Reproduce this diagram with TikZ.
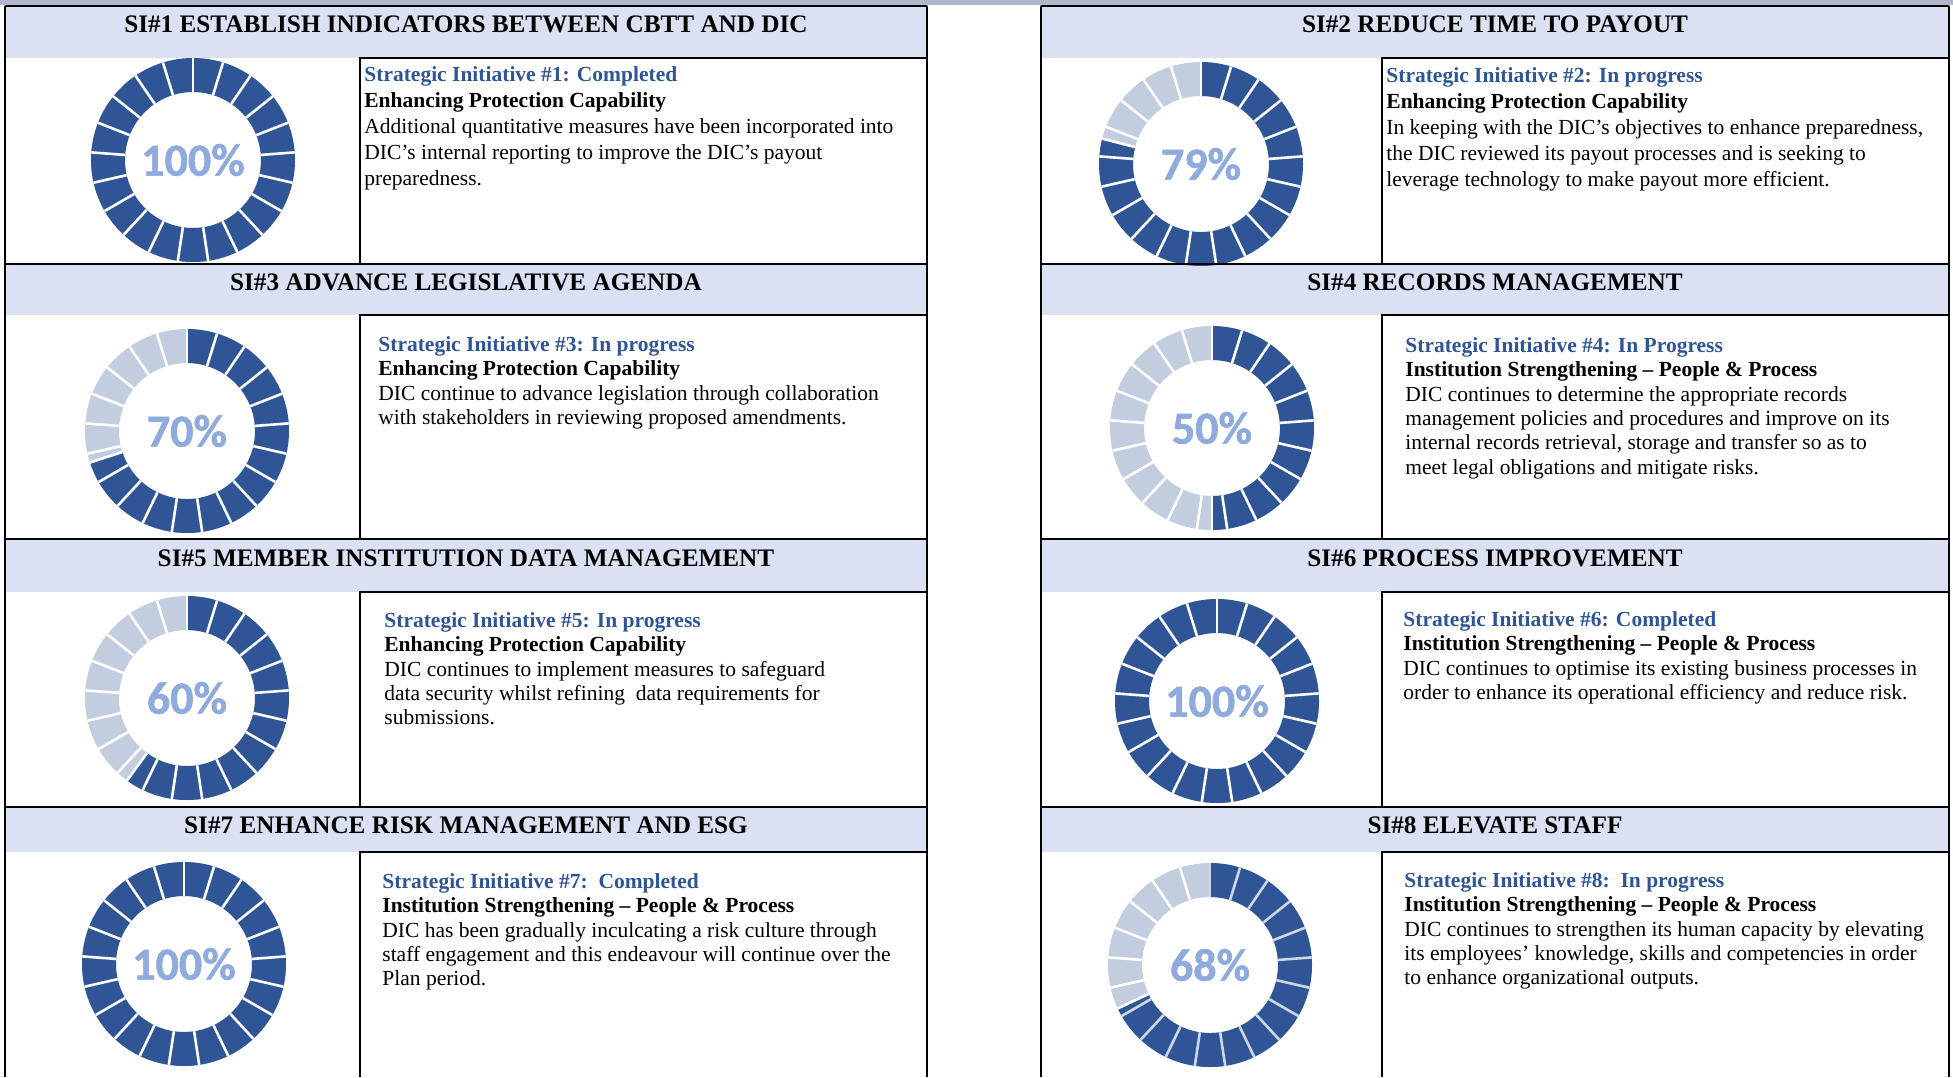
\documentclass[tikz,border=0pt]{standalone}
\usepackage{fontspec}
\setmainfont{Liberation Serif}
\newfontfamily\pctfont{Carlito}[BoldFeatures={FakeBold=1.2}]
\usetikzlibrary{calc}
\definecolor{segdark}{HTML}{2F5597}
\definecolor{segpale}{HTML}{C3CDE0}
\definecolor{pctblue}{HTML}{8FAADC}
\definecolor{headblue}{HTML}{D9E1F2}
\definecolor{stripgray}{HTML}{ADB9CA}
\definecolor{gapgray}{HTML}{CFD7E6}
\definecolor{titleblue}{HTML}{2F5597}
\tikzset{
	rule/.style={line width=0.9pt, black},
	headtext/.style={inner sep=0, font=\bfseries\fontsize{12.6}{15}\selectfont},
	infotext/.style={inner sep=0, anchor=north west, align=left, font=\fontsize{10.75}{12.2}\selectfont},
	pctlabel/.style={inner sep=0, text=pctblue, font=\pctfont\bfseries\fontsize{23}{27}\selectfont}
}
\def\ringout{102}
\def\ringin{68}
\def\ringchart#1[#2](#3,#4)(#5){%
	\fill[segpale, even odd rule] (#3,#4) circle (\ringout) (#3,#4) circle (\ringin);
	\pgfmathsetmacro\ringend{3.6*#5-90}
	\fill[segdark] ($(#3,#4)+(-90:\ringout)$) arc[start angle=-90, end angle=\ringend, radius=\ringout]
		-- ($(#3,#4)+(\ringend:\ringin)$) arc[start angle=\ringend, end angle=-90, radius=\ringin] -- cycle;
	\foreach \k in {0,...,20} {
		\pgfmathsetmacro\ringa{\k*360/21-90}
		\ifdim\ringa pt<\ringend pt\def\gapcol{#2}\else\def\gapcol{white}\fi
		\draw[\gapcol, line width=1.3pt] ($(#3,#4)+(\ringa:\ringin)$) -- ($(#3,#4)+(\ringa:\ringout)$);
	}
	\draw[white, line width=1.3pt] ($(#3,#4)+(\ringend:\ringin)$) -- ($(#3,#4)+(\ringend:\ringout)$);
	\node[pctlabel] (#1) at (#3,#4) {#5\%};
}

\begin{document}
\begin{tikzpicture}[x=0.5pt, y=-0.5pt]
		%%%%% START %%%%%
		
		\useasboundingbox (0,0) rectangle (1953,1077);
		\fill[stripgray] (0,0) rectangle (1953,5);
		
		% header bands
		\foreach \ya/\yb in {6/58, 264/315, 539/592, 807/852} {
			\fill[headblue] (5,\ya) rectangle (927,\yb);
			\fill[headblue] (1041,\ya) rectangle (1949,\yb);
		}
		
		% progress rings
		\ringchart{pct1}[white](193,160)(100)
		\ringchart{pct2}[white](1201,164)(79)
		\ringchart{pct3}[white](187,431)(70)
		\ringchart{pct4}[white](1212,428)(50)
		\ringchart{pct5}[white](187,698)(60)
		\ringchart{pct6}[white](1217,701)(100)
		\ringchart{pct7}[white](184,964)(100)
		\ringchart{pct8}[gapgray](1210,965)(68)
		
		% frames
		\draw[rule] (5,6) -- (5,1077);
		\draw[rule] (927,6) -- (927,1077);
		\draw[rule] (1041,6) -- (1041,1077);
		\draw[rule] (1949,6) -- (1949,1077);
		\foreach \ya/\yb/\yc in {6/58/264, 264/315/539, 539/592/807, 807/852/1077} {
			\draw[rule] (5,\ya) -- (927,\ya);
			\draw[rule] (1041,\ya) -- (1949,\ya);
			\draw[rule] (360,\yc) -- (360,\yb) -- (927,\yb);
			\draw[rule] (1382,\yc) -- (1382,\yb) -- (1949,\yb);
		}
		
		% headings
		\node[headtext] (head1) at (466,24) {SI\#1 ESTABLISH INDICATORS BETWEEN CBTT AND DIC};
		\node[headtext] (head2) at (1495,24) {SI\#2 REDUCE TIME TO PAYOUT};
		\node[headtext] (head3) at (466,282) {SI\#3 ADVANCE LEGISLATIVE AGENDA};
		\node[headtext] (head4) at (1495,282) {SI\#4 RECORDS MANAGEMENT};
		\node[headtext] (head5) at (466,558) {SI\#5 MEMBER INSTITUTION DATA MANAGEMENT};
		\node[headtext] (head6) at (1495,558) {SI\#6 PROCESS IMPROVEMENT};
		\node[headtext] (head7) at (466,825) {SI\#7 ENHANCE RISK MANAGEMENT AND ESG};
		\node[headtext] (head8) at (1495,825) {SI\#8 ELEVATE STAFF};
		
		% descriptions
		\node[infotext, font=\fontsize{10.75}{13}\selectfont] (info1) at (364,66) {\textcolor{titleblue}{\bfseries Strategic Initiative \#1: Completed}\\
			\textbf{Enhancing Protection Capability}\\
			Additional quantitative measures have been incorporated into\\
			DIC's internal reporting to improve the DIC's payout\\
			preparedness.};
		\node[infotext, font=\fontsize{10.75}{13}\selectfont] (info2) at (1386,67) {\textcolor{titleblue}{\bfseries Strategic Initiative \#2: In progress}\\
			\textbf{Enhancing Protection Capability}\\
			In keeping with the DIC's objectives to enhance preparedness,\\
			the DIC reviewed its payout processes and is seeking to\\
			leverage technology to make payout more efficient.};
		\node[infotext] (info3) at (378,336) {\textcolor{titleblue}{\bfseries Strategic Initiative \#3: In progress}\\
			\textbf{Enhancing Protection Capability}\\
			DIC continue to advance legislation through collaboration\\
			with stakeholders in reviewing proposed amendments.};
		\node[infotext] (info4) at (1405,337) {\textcolor{titleblue}{\bfseries Strategic Initiative \#4: In Progress}\\
			\textbf{Institution Strengthening -- People \& Process}\\
			DIC continues to determine the appropriate records\\
			management policies and procedures and improve on its\\
			internal records retrieval, storage and transfer so as to\\
			meet legal obligations and mitigate risks.};
		\node[infotext] (info5) at (384,612) {\textcolor{titleblue}{\bfseries Strategic Initiative \#5: In progress}\\
			\textbf{Enhancing Protection Capability}\\
			DIC continues to implement measures to safeguard\\
			data security whilst refining\ \ data requirements for\\
			submissions.};
		\node[infotext] (info6) at (1403,611) {\textcolor{titleblue}{\bfseries Strategic Initiative \#6: Completed}\\
			\textbf{Institution Strengthening -- People \& Process}\\
			DIC continues to optimise its existing business processes in\\
			order to enhance its operational efficiency and reduce risk.};
		\node[infotext] (info7) at (382,873) {\textcolor{titleblue}{\bfseries Strategic Initiative \#7:\ \ Completed}\\
			\textbf{Institution Strengthening -- People \& Process}\\
			DIC has been gradually inculcating a risk culture through\\
			staff engagement and this endeavour will continue over the\\
			Plan period.};
		\node[infotext] (info8) at (1404,872) {\textcolor{titleblue}{\bfseries Strategic Initiative \#8:\ \ In progress}\\
			\textbf{Institution Strengthening -- People \& Process}\\
			DIC continues to strengthen its human capacity by elevating\\
			its employees' knowledge, skills and competencies in order\\
			to enhance organizational outputs.};
		
		%%%%% END %%%%%
\end{tikzpicture}
\end{document}
